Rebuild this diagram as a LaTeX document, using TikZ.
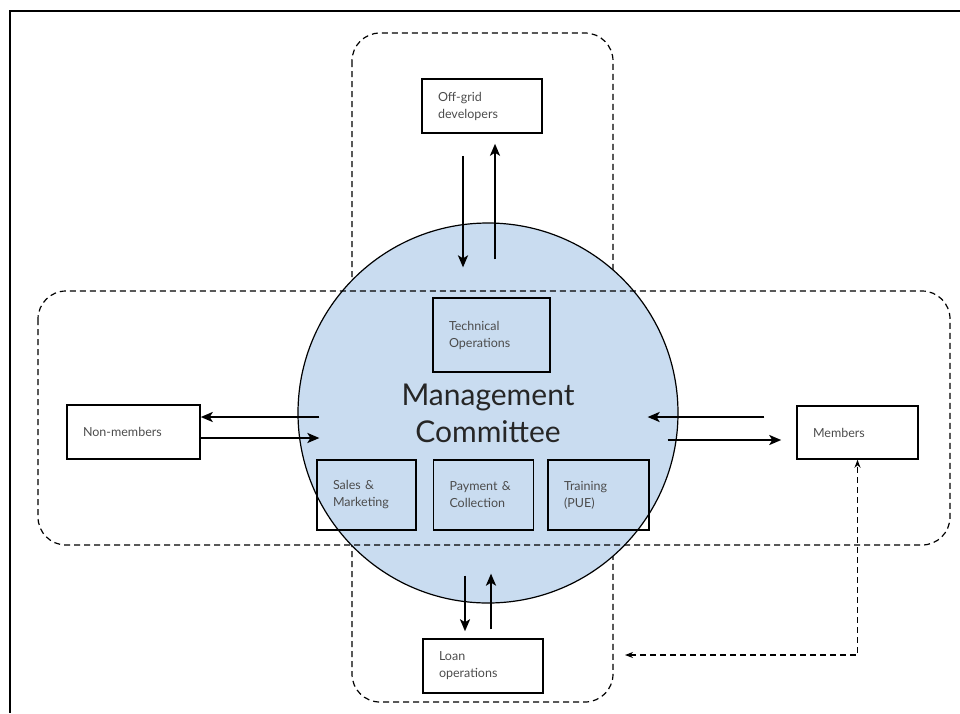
\documentclass[tikz,border=0pt]{standalone}
\usepackage{fontspec}
\setmainfont{Lato}
\usetikzlibrary{arrows.meta, positioning}
\definecolor{mcblue}{RGB}{201,220,240}

\begin{document}
\begin{tikzpicture}[
    x=1pt, y=-1pt,
    unit/.style={rectangle, draw, line width=1.5pt, align=left, inner xsep=16pt, inner ysep=0pt, text=black!70, font=\fontsize{12.5}{17}\selectfont},
    hub/.style={circle, draw, line width=1.2pt, fill=mcblue, minimum size=380pt, inner sep=0pt, text=black!85, font=\fontsize{30}{37}\selectfont},
    zone/.style={line width=1.2pt, dash pattern=on 6pt off 4pt, rounded corners=28pt},
    flow/.style={-{Stealth[length=12pt, width=10pt, inset=3pt]}, line width=2.6pt},
    fbk/.style={{Stealth[length=8pt, width=6pt]}-{Stealth[length=8pt, width=6pt]}, line width=1.2pt, dash pattern=on 6pt off 4pt}
]
    \useasboundingbox (0,0) rectangle (960,713);
    \draw[line width=2pt] (960,11) -- (10,11) -- (10,713);

    \draw[zone] (352,33) rectangle (613,702);
    \node[hub, align=center] (mc) at (488,413) {Management\\Committee};
    \draw[zone] (38,291) rectangle (950,545);

    \node[unit, text width=85pt, minimum height=74pt] (tech) at (491.5,335) {Technical\\Operations};
    \node[unit, text width=67pt, minimum height=70pt] (sales) at (366.5,495) {Sales \&\\Marketing};
    \node[unit, text width=68pt, minimum height=70pt, right=16pt of sales] (payment) {Payment \&\\Collection};
    \node[unit, text width=69pt, minimum height=70pt, right=13pt of payment] (training) {Training\\(PUE)};

    \node[unit, text width=88pt, minimum height=54pt] (offgrid) at (482,106) {Off-grid\\developers};
    \node[unit, text width=101pt, minimum height=54pt] (nonmem) at (133.5,432) {Non-members};
    \node[unit, text width=89pt, minimum height=53pt] (members) at (857.5,432.5) {Members};
    \node[unit, text width=88pt, minimum height=54pt] (loan) at (483,666) {Loan\\operations};

    \draw[flow] ([xshift=-19pt, yshift=-22pt]offgrid.south) -- ([xshift=-25pt, yshift=-45pt]mc.north);
    \draw[flow] ([xshift=7pt, yshift=-37pt]mc.north) -- ([xshift=13pt, yshift=-10pt]offgrid.south);

    \draw[flow] ([xshift=22pt, yshift=-4pt]mc.west) -- ([yshift=15pt]nonmem.east);
    \draw[flow] ([yshift=-6pt]nonmem.east) -- ([xshift=22pt, yshift=-25pt]mc.west);

    \draw[flow] ([xshift=-32pt, yshift=15.5pt]members.west) -- ([xshift=-31pt, yshift=-4pt]mc.east);
    \draw[flow] ([xshift=-11pt, yshift=-27pt]mc.east) -- ([xshift=-15pt, yshift=-7.5pt]members.west);

    \draw[flow] ([xshift=-23pt, yshift=28pt]mc.south) -- ([xshift=-18pt, yshift=7pt]loan.north);
    \draw[flow] ([xshift=8pt, yshift=9pt]loan.north) -- ([xshift=3pt, yshift=30pt]mc.south);

    \coordinate (fb) at (625,655);
    \draw[fbk] (fb) -| (members.south);
\end{tikzpicture}
\end{document}
